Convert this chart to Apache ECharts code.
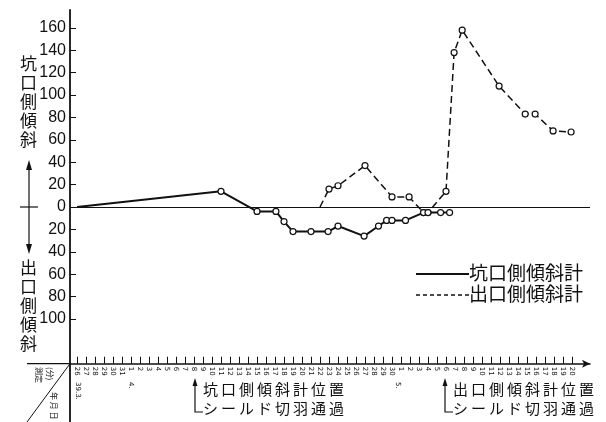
<!DOCTYPE html>
<html><head><meta charset="utf-8">
<script src="https://cdn.jsdelivr.net/npm/echarts@6/dist/echarts.min.js"></script>
<style>html,body{margin:0;padding:0;background:#fff}#c{width:606px;height:422px}</style>
</head><body><div id="c"></div>
<script>
// x: day index from 1964(昭和39).3.26 (0) to 5.20 (55)
const dayLabels = ['26','27','28','29','30','31',
  '1','2','3','4','5','6','7','8','9','10','11','12','13','14','15','16','17','18','19','20','21','22','23','24','25','26','27','28','29','30',
  '1','2','3','4','5','6','7','8','9','10','11','12','13','14','15','16','17','18','19','20'];
const yTicks = [-100,-80,-60,-40,-20,0,20,40,60,80,100,120,140,160];
// 坑口側傾斜計 (solid)
const portalDays = [0,16,20,22.1,23,24,26,27.9,29,31.9,33.5,34.4,35,36.5,38.5,39,40.4,41.4];
const portalVals = [0,14,-4,-4,-13,-22,-22,-22,-17,-26,-17,-12,-12,-12,-5,-5,-5,-5];
// 出口側傾斜計 (dashed)
const exitDays = [27,28,29,32,35,36.9,38.5,39,41,41.9,42.8,46.9,49.8,50.9,52.9,54.9];
const exitVals = [0,16,19,37,9,9,-5,-5,14,138,158,108,83,83,68,67];

const mk = (xs, ys) => xs.map((d, i) => i === 0 ? {value:[d, ys[i]], symbol:'none'} : [d, ys[i]]);
const chart = echarts.init(document.getElementById('c'));
const cjk = '"Noto Sans CJK JP", sans-serif';
const vtext = (s, x, y) => ({type:'text', left:x, top:y, style:{text:s.split('').join('\n'), font:'17px ' + cjk, lineHeight:19, fill:'#111', textAlign:'center'}});
const row = (s, x, y) => ({type:'text', left:x, top:y, style:{text:s.split('').join('\u2009'), font:'15px ' + cjk, fill:'#111'}});
chart.setOption({
  animation:false,
  backgroundColor:'#fff',
  grid:{left:70, right:16, top:10, bottom:58.3, containLabel:false},
  xAxis:{type:'value', min:-0.78, max:57,
    axisLine:{show:true, onZero:false, lineStyle:{color:'#111', width:1.5}, symbol:['none','arrow'], symbolSize:[6,8]},
    axisTick:{show:true, inside:true, length:7, customValues:dayLabels.map((_, i) => i), lineStyle:{color:'#111', width:1}},
    axisLabel:{customValues:dayLabels.map((_, i) => i), formatter:v => dayLabels[Math.round(v)], rotate:-90, fontSize:7, margin:3, color:'#111', fontFamily:'DejaVu Sans'},
    splitLine:{show:false}},
  yAxis:{type:'value', min:-140, max:176,
    axisLine:{show:true, onZero:false, lineStyle:{color:'#111', width:1.8}},
    axisTick:{show:true, inside:true, length:6, customValues:yTicks, lineStyle:{color:'#111'}},
    axisLabel:{customValues:yTicks, formatter:v => String(Math.abs(v)), fontSize:16, margin:4, color:'#111', fontFamily:'Liberation Sans'},
    splitLine:{show:false}},
  series:[
    {name:'坑口側傾斜計', type:'line', data:mk(portalDays, portalVals), symbol:'circle', symbolSize:6,
      itemStyle:{color:'#fff', borderColor:'#111', borderWidth:1.2},
      lineStyle:{color:'#111', width:2}, z:3,
      markLine:{silent:true, symbol:'none', label:{show:false}, lineStyle:{color:'#111', type:'solid', width:1.2}, data:[{yAxis:0}]}},
    {name:'出口側傾斜計', type:'line', data:mk(exitDays, exitVals), symbol:'circle', symbolSize:6,
      itemStyle:{color:'#fff', borderColor:'#111', borderWidth:1.2},
      lineStyle:{color:'#111', width:1.5, type:[7,4]}, z:4}
  ],
  graphic:[
    vtext('坑口側傾斜', 20, 54),
    vtext('出口側傾斜', 20, 258),
    {type:'line', shape:{x1:29, y1:165, x2:29, y2:248}, style:{stroke:'#111', lineWidth:1.2}},
    {type:'polygon', shape:{points:[[26,170],[29,160],[32,170]]}, style:{fill:'#111'}},
    {type:'polygon', shape:{points:[[26,244],[29,254],[32,244]]}, style:{fill:'#111'}},
    {type:'line', shape:{x1:20, y1:207, x2:38, y2:207}, style:{stroke:'#111', lineWidth:1.2}},
    // legend
    {type:'line', shape:{x1:416, y1:274, x2:469, y2:274}, style:{stroke:'#111', lineWidth:2}},
    {type:'line', shape:{x1:416, y1:295, x2:469, y2:295}, style:{stroke:'#111', lineWidth:1.5, lineDash:[4,3]}},
    {type:'text', left:469, top:263, style:{text:'坑口側傾斜計', font:'19px ' + cjk, fill:'#111'}},
    {type:'text', left:469, top:284, style:{text:'出口側傾斜計', font:'19px ' + cjk, fill:'#111'}},
    // bottom-left header box
    {type:'line', shape:{x1:27, y1:363.7, x2:70, y2:363.7}, style:{stroke:'#111', lineWidth:1.2}},
    {type:'line', shape:{x1:70, y1:363.7, x2:70, y2:422}, style:{stroke:'#111', lineWidth:1.8}},
    {type:'line', shape:{x1:27, y1:422, x2:70, y2:363.7}, style:{stroke:'#111', lineWidth:1}},
    {type:'text', x:43, y:367, rotation:-Math.PI/2, style:{text:'測定', font:'8px ' + cjk, fill:'#111'}},
    {type:'text', x:54, y:367, rotation:-Math.PI/2, style:{text:'(分)', font:'8px ' + cjk, fill:'#111'}},
    {type:'text', x:58, y:392, rotation:-Math.PI/2, style:{text:'年 月 日', font:'8px ' + cjk, fill:'#111'}},
    {type:'text', x:81, y:382, rotation:-Math.PI/2, style:{text:'39.3.', font:'7px DejaVu Sans', fill:'#111'}},
    {type:'text', x:134, y:382, rotation:-Math.PI/2, style:{text:'4.', font:'7px DejaVu Sans', fill:'#111'}},
    {type:'text', x:401, y:382, rotation:-Math.PI/2, style:{text:'5.', font:'7px DejaVu Sans', fill:'#111'}},
    // annotations
    {type:'polyline', shape:{points:[[195,382],[195,412],[203,412]]}, style:{stroke:'#111', lineWidth:1.2, fill:null}},
    {type:'polygon', shape:{points:[[192.5,386],[195,378],[197.5,386]]}, style:{fill:'#111'}},
    row('坑口側傾斜計位置', 203, 382),
    row('シールド切羽通過', 203, 401),
    {type:'polyline', shape:{points:[[445,382],[445,412],[453,412]]}, style:{stroke:'#111', lineWidth:1.2, fill:null}},
    {type:'polygon', shape:{points:[[442.5,386],[445,378],[447.5,386]]}, style:{fill:'#111'}},
    row('出口側傾斜計位置', 453, 382),
    row('シールド切羽通過', 453, 401)
  ]
});
</script></body></html>
